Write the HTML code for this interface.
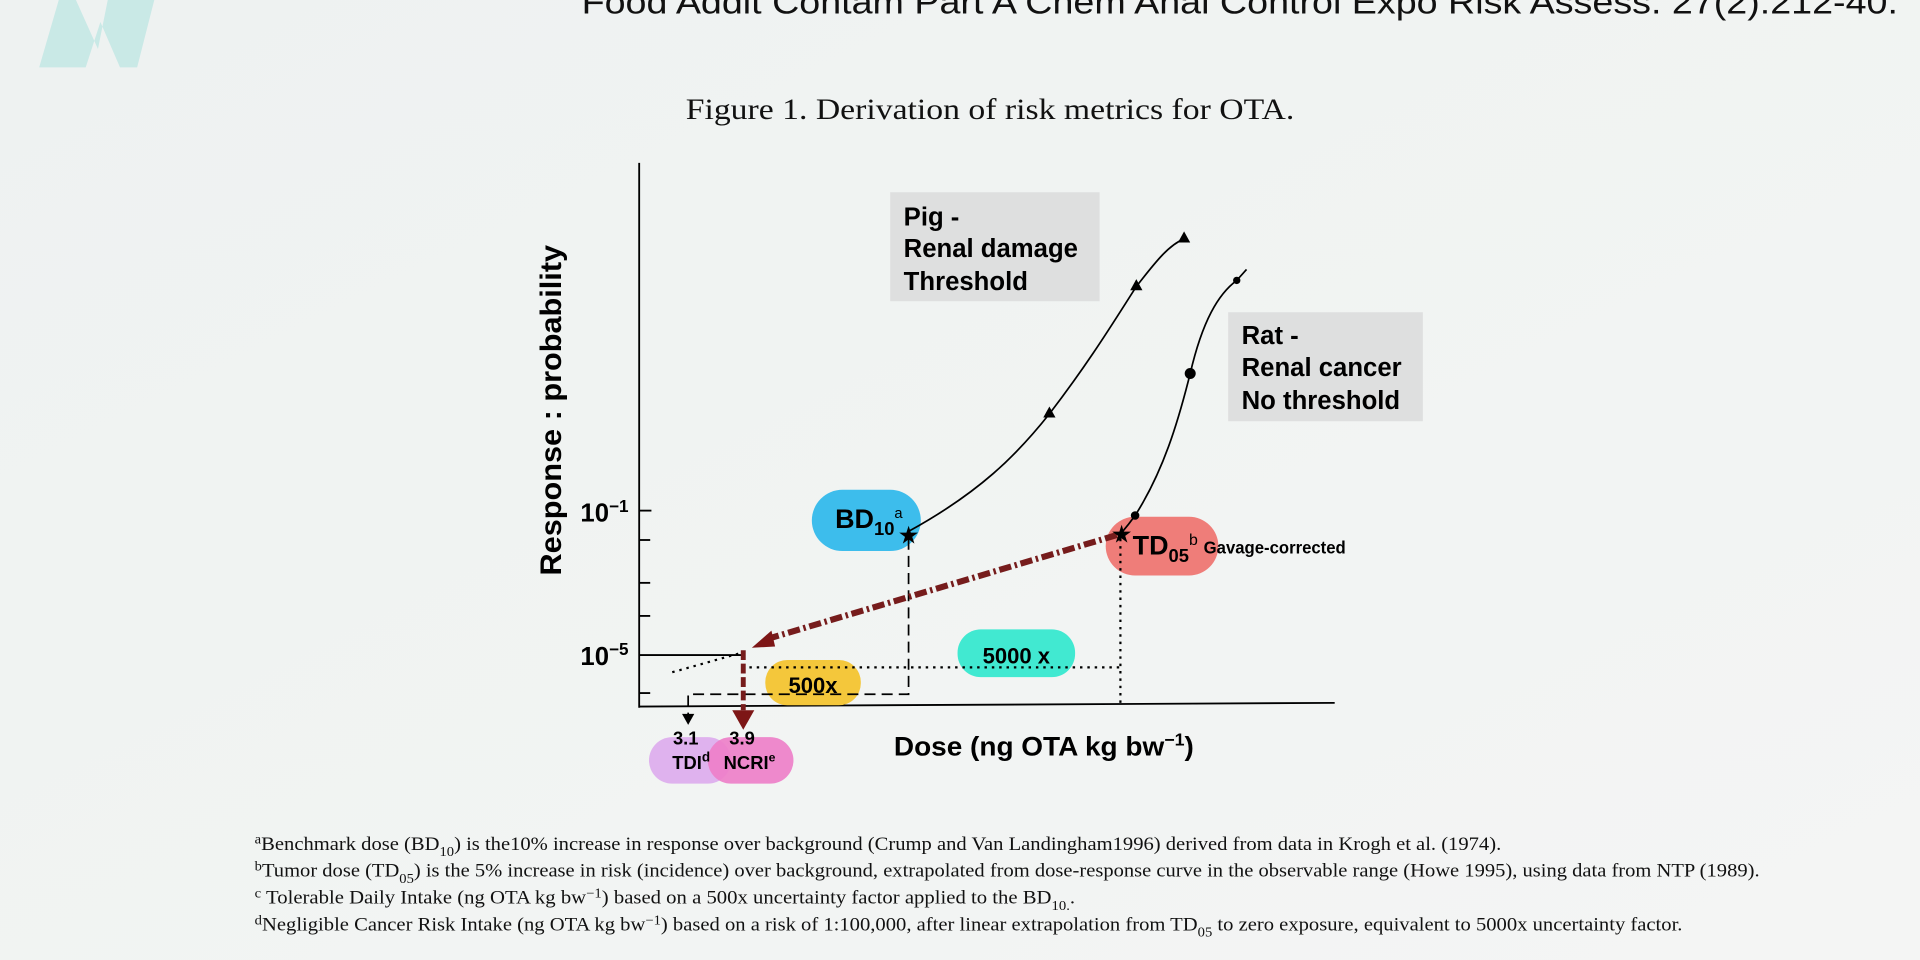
<!DOCTYPE html>
<html><head><meta charset="utf-8"><style>
html,body{margin:0;padding:0;background:#f1f3f2;overflow:hidden}
svg{display:block}
.b{font-family:"Liberation Sans",Arial,sans-serif;font-weight:bold}
.s{font-family:"Liberation Serif",serif}
</style></head><body>
<svg width="1920" height="960" viewBox="0 0 1568 784" xmlns="http://www.w3.org/2000/svg">
<defs><linearGradient id="bg" x1="0" y1="0" x2="1" y2="1"><stop offset="0" stop-color="#eef2f1"/><stop offset="1" stop-color="#f4f5f4"/></linearGradient></defs>
<rect width="1568" height="784" fill="url(#bg)"/>
<path d="M48,0 L62,0 L80,40 L88,0 L126,0 L112,55 L98,55 L82,18 L70,55 L32,55 Z" fill="#bfe6e4" opacity="0.8"/>
<text x="1550" y="11" text-anchor="end" font-family="Liberation Sans,sans-serif" font-size="27" fill="#111" textLength="1075" lengthAdjust="spacingAndGlyphs">Food Addit Contam Part A Chem Anal Control Expo Risk Assess. 27(2):212-40.</text>
<text x="560" y="97" class="s" font-size="24" fill="#111" textLength="497" lengthAdjust="spacingAndGlyphs">Figure 1. Derivation of risk metrics for OTA.</text>

<!-- axes -->
<g stroke="#000" stroke-width="1.5" fill="none">
<line x1="522" y1="133" x2="522" y2="578"/>
<line x1="522" y1="577" x2="1090" y2="574"/>
<line x1="522" y1="417" x2="532" y2="417"/>
<line x1="522" y1="441" x2="531" y2="441"/>
<line x1="522" y1="476" x2="531" y2="476"/>
<line x1="522" y1="503" x2="531" y2="503"/>
<line x1="522" y1="535" x2="608" y2="535"/>
<line x1="522" y1="566" x2="531" y2="566"/>
</g>
<text x="474" y="426" class="b" font-size="21">10<tspan font-size="14" dy="-8">−1</tspan></text>
<text x="474" y="543" class="b" font-size="21">10<tspan font-size="14" dy="-8">−5</tspan></text>
<text transform="translate(458,335) rotate(-90)" text-anchor="middle" class="b" font-size="24" textLength="270" lengthAdjust="spacingAndGlyphs">Response : probability</text>
<text x="730" y="617" class="b" font-size="22" textLength="245" lengthAdjust="spacingAndGlyphs">Dose (ng OTA kg bw<tspan font-size="14" dy="-8">−1</tspan><tspan dy="8">)</tspan></text>

<!-- boxes -->
<rect x="727" y="157" width="171" height="89" fill="#dedfdf"/>
<text class="b" font-size="21"><tspan x="738" y="184">Pig -</tspan><tspan x="738" y="210">Renal damage</tspan><tspan x="738" y="237">Threshold</tspan></text>
<rect x="1003" y="255" width="159" height="89" fill="#dedfdf"/>
<text class="b" font-size="21"><tspan x="1014" y="281">Rat -</tspan><tspan x="1014" y="307">Renal cancer</tspan><tspan x="1014" y="334">No threshold</tspan></text>

<!-- pills -->
<rect x="663" y="400" width="89" height="50" rx="25" fill="#3dbdec"/>
<rect x="903" y="422" width="92" height="48" rx="24" fill="#ef7d79"/>
<rect x="782" y="514" width="96" height="39" rx="19" fill="#41e9d1"/>
<rect x="625" y="539" width="78" height="37" rx="18" fill="#f4c73b"/>
<rect x="530" y="602" width="67" height="38" rx="19" fill="#dfb2ee"/>
<rect x="578" y="602" width="70" height="38" rx="19" fill="#ee7fc9" opacity="0.92"/>

<!-- curves -->
<g stroke="#000" stroke-width="1.4" fill="none">
<path d="M742,434 C800,402 830,372 857,338 C890,295 910,262 928,234 C945,212 955,200 967,195"/>
<path d="M916,435 Q922,428 927,421 C950,385 962,345 972,305 C982,262 995,240 1010,229 L1018,220"/>
<path d="M742,440 L742,567 L562,567 L562,584" stroke-dasharray="9,5"/>
<path d="M915,440 L915,575" stroke-dasharray="2,4" stroke-width="1.8"/>
<path d="M606,545 L915,545" stroke-dasharray="2,4" stroke-width="1.8"/>
<path d="M549,549 L606,533" stroke-dasharray="2,4" stroke-width="1.8"/>
</g>
<polygon points="557,583 567,583 562,592" fill="#000"/>
<g fill="#000">
<polygon points="857,332 862,341 852,341"/>
<polygon points="928,228 933,237 923,237"/>
<polygon points="967,189 972,198 962,198"/>
<circle cx="927" cy="421" r="3.5"/>
<circle cx="972" cy="305" r="4.5"/>
<circle cx="1010" cy="229" r="3"/>
</g>
<!-- red extrapolation -->
<path d="M912,437 L626,522" stroke="#761c1c" stroke-width="5" stroke-dasharray="10,3,2,3" fill="none"/>
<polygon points="614,529 630,515 633,528" fill="#7d1616"/>
<path d="M607,531 L607,580" stroke="#761c1c" stroke-width="4" stroke-dasharray="8,3" fill="none"/>
<polygon points="598,580 616,580 607,596" fill="#7d1616"/>
<text x="742" y="444" text-anchor="middle" font-size="20" fill="#000">★</text>
<text x="916" y="443" text-anchor="middle" font-size="20" fill="#000">★</text>

<!-- labels -->
<text x="682" y="431" class="b" font-size="22">BD<tspan font-size="15" dy="6">10</tspan><tspan font-size="12" font-weight="normal" dy="-14">a</tspan></text>
<text x="925" y="453" class="b" font-size="22">TD<tspan font-size="15" dy="6">05</tspan><tspan font-size="13" font-weight="normal" dy="-14">b</tspan><tspan x="983" y="452" font-size="14" textLength="116" lengthAdjust="spacingAndGlyphs">Gavage-corrected</tspan></text>
<text x="830" y="542" text-anchor="middle" class="b" font-size="18">5000 x</text>
<text x="664" y="566" text-anchor="middle" class="b" font-size="18">500x</text>
<text x="560" y="608" text-anchor="middle" class="b" font-size="15">3.1</text>
<text x="606" y="608" text-anchor="middle" class="b" font-size="15">3.9</text>
<text x="549" y="628" class="b" font-size="15">TDI<tspan font-size="11" dy="-6">d</tspan></text>
<text x="591" y="628" class="b" font-size="15">NCRI<tspan font-size="10" dy="-6">e</tspan></text>

<!-- footnotes -->
<g class="s" font-size="15.5" fill="#111">
<text x="208" y="694" textLength="1018" lengthAdjust="spacingAndGlyphs"><tspan font-size="11" dy="-5">a</tspan><tspan dy="5">Benchmark dose (BD</tspan><tspan font-size="11" dy="5">10</tspan><tspan dy="-5">) is the10% increase in response over background (Crump and Van Landingham1996) derived from data in Krogh et al. (1974).</tspan></text>
<text x="208" y="716" textLength="1229" lengthAdjust="spacingAndGlyphs"><tspan font-size="11" dy="-5">b</tspan><tspan dy="5">Tumor dose (TD</tspan><tspan font-size="11" dy="5">05</tspan><tspan dy="-5">) is the 5% increase in risk (incidence) over background, extrapolated from dose-response curve in the observable range (Howe 1995), using data from NTP (1989).</tspan></text>
<text x="208" y="738" textLength="670" lengthAdjust="spacingAndGlyphs"><tspan font-size="11" dy="-5">c</tspan><tspan dy="5"> Tolerable Daily Intake (ng OTA kg bw</tspan><tspan font-size="11" dy="-5">−1</tspan><tspan dy="5">) based on a 500x uncertainty factor applied to the BD</tspan><tspan font-size="11" dy="5">10.</tspan><tspan dy="-5">.</tspan></text>
<text x="208" y="760" textLength="1166" lengthAdjust="spacingAndGlyphs"><tspan font-size="11" dy="-5">d</tspan><tspan dy="5">Negligible Cancer Risk Intake (ng OTA kg bw</tspan><tspan font-size="11" dy="-5">−1</tspan><tspan dy="5">) based on a risk of 1:100,000, after linear extrapolation from TD</tspan><tspan font-size="11" dy="5">05</tspan><tspan dy="-5"> to zero exposure, equivalent to 5000x uncertainty factor.</tspan></text>
</g>
</svg>
</body></html>
